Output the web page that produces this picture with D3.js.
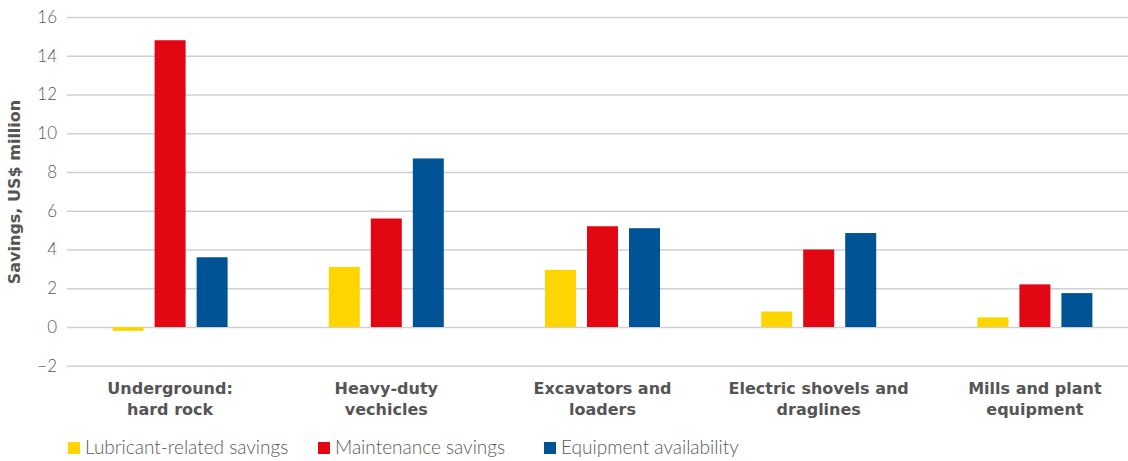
<!DOCTYPE html>
<html>
<head>
<meta charset="utf-8">
<script src="https://cdn.jsdelivr.net/npm/d3@7"></script>
<style>
  html, body { margin: 0; padding: 0; background: #fff; }
  svg { display: block; }
</style>
</head>
<body>
<svg id="chart" width="1128" height="461"></svg>
<script>
const categories = [
  ["Underground:", "hard rock"],
  ["Heavy-duty", "vechicles"],
  ["Excavators and", "loaders"],
  ["Electric shovels and", "draglines"],
  ["Mills and plant", "equipment"]
];
const seriesNames = ["Lubricant-related savings", "Maintenance savings", "Equipment availability"];
const lubricantSavings = [-0.2, 3.1, 2.95, 0.8, 0.5];
const maintenanceSavings = [14.8, 5.6, 5.2, 4.0, 2.2];
const equipmentAvailability = [3.6, 8.7, 5.1, 4.85, 1.75];
const yTicks = [-2, 0, 2, 4, 6, 8, 10, 12, 14, 16];
const colors = ["#FFD500", "#E30613", "#005496"];
const yTitle = "Savings, US$ million";

const seriesValues = [lubricantSavings, maintenanceSavings, equipmentAvailability];
const catKeys = categories.map(c => c.join(" "));

const svg = d3.select("#chart");
const lightFont = "Lato, 'Open Sans', sans-serif";
const boldFont = "'DejaVu Sans', Lato, sans-serif";

const x0 = d3.scaleBand().domain(catKeys).range([62, 1143]).paddingInner(0.468).paddingOuter(0.234);
const x1 = d3.scaleBand().domain(seriesNames).range([0, x0.bandwidth()]).paddingInner(0.262).paddingOuter(0);
const y = d3.scaleLinear().domain([-2, 16]).range([365.75, 17]);

// gridlines + tick labels
const yAxis = d3.axisLeft(y).tickValues(yTicks).tickSize(-(1128 - 67)).tickPadding(10)
  .tickFormat(d => d < 0 ? "\u2212" + Math.abs(d) : d);
const gAxis = svg.append("g").attr("transform", "translate(67,0)").call(yAxis);
gAxis.select(".domain").remove();
gAxis.selectAll(".tick line").attr("stroke", "#d0d0d0").attr("stroke-width", 1.5);
gAxis.selectAll(".tick text")
  .attr("x", -10)
  .attr("fill", "#5a5a5a")
  .style("font-family", lightFont)
  .style("font-size", "17px")
  .style("font-weight", 300);

// bars
const groups = svg.append("g").selectAll("g")
  .data(catKeys)
  .join("g")
  .attr("transform", d => `translate(${x0(d)},0)`);

groups.selectAll("rect")
  .data((d, i) => seriesNames.map((s, j) => ({ s, v: seriesValues[j][i], c: colors[j] })))
  .join("rect")
  .attr("x", d => x1(d.s))
  .attr("width", x1.bandwidth())
  .attr("y", d => y(Math.max(0, d.v)))
  .attr("height", d => Math.abs(y(d.v) - y(0)))
  .attr("fill", d => d.c);

// category labels
const labels = svg.append("g").selectAll("text")
  .data(categories)
  .join("text")
  .attr("x", (d, i) => x0(catKeys[i]) + x0.bandwidth() / 2)
  .attr("y", 394)
  .attr("text-anchor", "middle")
  .attr("fill", "#555")
  .style("font-family", boldFont)
  .style("font-size", "16px")
  .style("font-weight", 700);
labels.selectAll("tspan")
  .data(d => d)
  .join("tspan")
  .attr("x", function () { return d3.select(this.parentNode).attr("x"); })
  .attr("dy", (d, i) => i === 0 ? 0 : 21)
  .text(d => d);

// y title
svg.append("text")
  .attr("transform", "translate(20,192) rotate(-90)")
  .attr("text-anchor", "middle")
  .attr("fill", "#555")
  .style("font-family", boldFont)
  .style("font-size", "16px")
  .style("font-weight", 700)
  .text(yTitle);

// legend
const legendX = [68, 318, 544];
const legend = svg.append("g").selectAll("g")
  .data(seriesNames)
  .join("g")
  .attr("transform", (d, i) => `translate(${legendX[i]},442)`);
legend.append("rect").attr("width", 12).attr("height", 12).attr("fill", (d, i) => colors[i]);
legend.append("text")
  .attr("x", 17)
  .attr("y", 12)
  .attr("fill", "#5a5a5a")
  .style("font-family", lightFont)
  .style("font-size", "19px")
  .style("font-weight", 300)
  .text(d => d);
</script>
</body>
</html>
